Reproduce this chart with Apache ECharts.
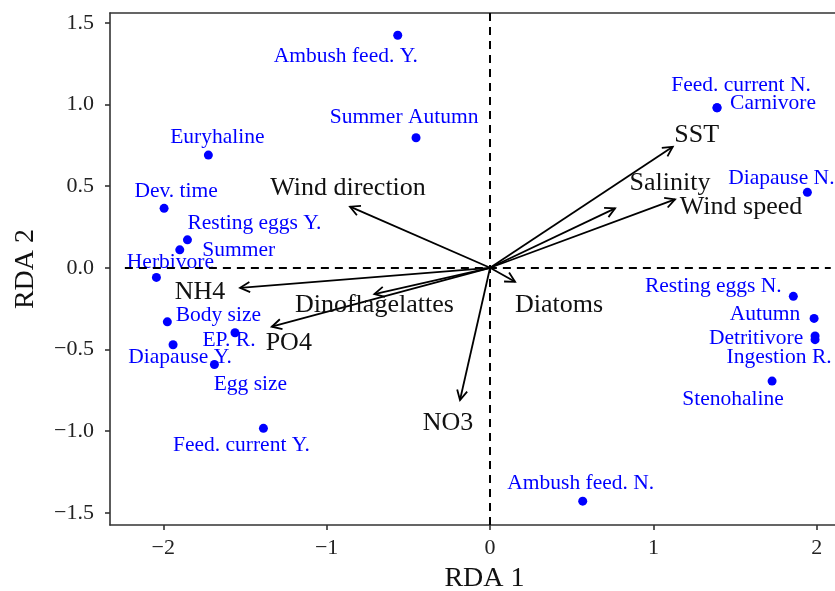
<!DOCTYPE html>
<html><head><meta charset="utf-8">
<script src="https://cdn.jsdelivr.net/npm/echarts@6/dist/echarts.min.js"></script>
<style>html,body{margin:0;padding:0;background:#fff;overflow:hidden}#c{width:835px;height:591px}</style>
</head><body><div id="c"></div>
<script>
// ---- data ----
const traitNames = ["Ambush feed. Y.", "Summer Autumn", "Euryhaline", "Dev. time", "Resting eggs Y.", "Summer", "Herbivore", "Body size", "EP. R.", "Diapause Y.", "Egg size", "Feed. current Y.", "Feed. current N.", "Carnivore", "Diapause N.", "Resting eggs N.", "Autumn", "Detritivore", "Ingestion R.", "Stenohaline", "Ambush feed. N."];
const traitX = [-0.565, -0.453, -1.724, -1.995, -1.852, -1.899, -2.042, -1.975, -1.561, -1.940, -1.687, -1.387, 1.389, 1.389, 1.942, 1.856, 1.983, 1.989, 1.989, 1.726, 0.567];
const traitY = [1.424, 0.796, 0.690, 0.364, 0.171, 0.110, -0.059, -0.331, -0.398, -0.471, -0.592, -0.983, 0.980, 0.980, 0.462, -0.175, -0.310, -0.418, -0.440, -0.694, -1.429];
const envNames = ["Wind direction", "SST", "Salinity", "Wind speed", "NH4", "PO4", "Dinoflagelattes", "Diatoms", "NO3"];
const envX = [-0.857, 1.118, 0.765, 1.132, -1.530, -1.336, -0.708, 0.153, -0.184];
const envY = [0.374, 0.741, 0.364, 0.419, -0.123, -0.361, -0.161, -0.086, -0.810];
const xTicks = [-2, -1, 0, 1, 2];
const yTicks = [-1.5, -1.0, -0.5, 0.0, 0.5, 1.0, 1.5];

// ---- layout (label offsets in pixels) ----
const traitLabelOffsets = [[-52,21],[-12,-20],[9,-18],[12,-17],[67,-16],[59,1],[14,-15],[51,-6],[-6,8],[7,13],[36,20],[-22,17],[24,-22],[56,-4],[-26,-14],[-80,-10],[-49,-4],[-59,2],[-36,18],[-39,18],[-2,-18]];
const envLabelOffsets = [[-2,-19],[24,-12],[55,-25],[66,8],[-40,4],[17,16],[0,11],[44,23],[-12,23]];

const FONT = '"Liberation Serif", "Times New Roman", serif';
const minusFmt = (v, d) => (v < 0 ? '\u2212' : '') + Math.abs(v).toFixed(d);
const AX = {color: '#333', width: 1.6};

const chart = echarts.init(document.getElementById('c'), null, {renderer: 'canvas'});
chart.setOption({
  animation: false,
  backgroundColor: '#fff',
  grid: {left: 110, right: 0, top: 13, bottom: 66, show: false, containLabel: false, outerBoundsMode: 'none'},
  xAxis: [{
    type: 'value', min: -2.326, max: 2.111,
    name: 'RDA 1', nameLocation: 'middle', nameGap: 40,
    nameTextStyle: {fontFamily: FONT, fontSize: 28, color: '#111', padding: [0, 0, 0, 24]},
    axisLine: {show: true, onZero: false, lineStyle: AX},
    axisTick: {show: true, length: 5, customValues: xTicks, lineStyle: AX},
    axisLabel: {customValues: xTicks, fontFamily: FONT, fontSize: 22, color: '#222', margin: 12, formatter: v => minusFmt(v, 0)},
    splitLine: {show: false}
  }, {
    type: 'value', position: 'top', min: -2.326, max: 2.111,
    axisLine: {show: true, onZero: false, lineStyle: AX},
    axisTick: {show: false}, axisLabel: {show: false}, splitLine: {show: false}
  }],
  yAxis: {
    type: 'value', min: -1.575, max: 1.560,
    name: 'RDA 2', nameLocation: 'middle', nameGap: 70,
    nameTextStyle: {fontFamily: FONT, fontSize: 28, color: '#111'},
    axisLine: {show: true, onZero: false, lineStyle: AX},
    axisTick: {show: true, length: 5, customValues: yTicks, lineStyle: AX},
    axisLabel: {customValues: yTicks, fontFamily: FONT, fontSize: 22, color: '#222', margin: 16, formatter: v => minusFmt(v, 1)},
    splitLine: {show: false}
  },
  series: [
    {
      type: 'scatter', z: 2,
      data: [],
      markLine: {
        silent: true, symbol: 'none', animation: false,
        label: {show: false},
        lineStyle: {color: '#000', width: 2, type: [8, 6], opacity: 1},
        data: [
          {xAxis: 0},
          [{coord: [-2.235, 0]}, {coord: [2.085, 0]}]
        ]
      }
    },
    {
      type: 'custom', z: 3, clip: false,
      data: envX.map((x, i) => [x, envY[i], i]),
      renderItem: function (params, api) {
        const i = api.value(2);
        const p = api.coord([api.value(0), api.value(1)]);
        const o = api.coord([0, 0]);
        const ang = Math.atan2(p[1] - o[1], p[0] - o[0]);
        const L = 11, a = Math.PI / 6.5;
        const w1 = [p[0] - L * Math.cos(ang - a), p[1] - L * Math.sin(ang - a)];
        const w2 = [p[0] - L * Math.cos(ang + a), p[1] - L * Math.sin(ang + a)];
        const off = envLabelOffsets[i];
        return {
          type: 'group',
          children: [
            {type: 'line', shape: {x1: o[0], y1: o[1], x2: p[0], y2: p[1]}, style: {stroke: '#000', lineWidth: 1.8}},
            {type: 'polyline', shape: {points: [w1, p, w2]}, style: {stroke: '#000', lineWidth: 1.8, fill: null}},
            {type: 'text', style: {text: envNames[i], x: p[0] + off[0], y: p[1] + off[1], fill: '#111', fontFamily: FONT, fontSize: 26, align: 'center', verticalAlign: 'middle'}}
          ]
        };
      }
    },
    {
      type: 'scatter', z: 4,
      symbol: 'circle', symbolSize: 9,
      itemStyle: {color: '#0000FF', opacity: 1},
      data: traitX.map((x, i) => ({
        value: [x, traitY[i]], name: traitNames[i],
        label: {offset: traitLabelOffsets[i]}
      })),
      label: {
        show: true, position: 'inside', formatter: p => p.name, opacity: 1,
        color: '#0000FF', fontFamily: FONT, fontSize: 21.5, align: 'center', verticalAlign: 'middle'
      }
    }
  ]
});
</script></body></html>
